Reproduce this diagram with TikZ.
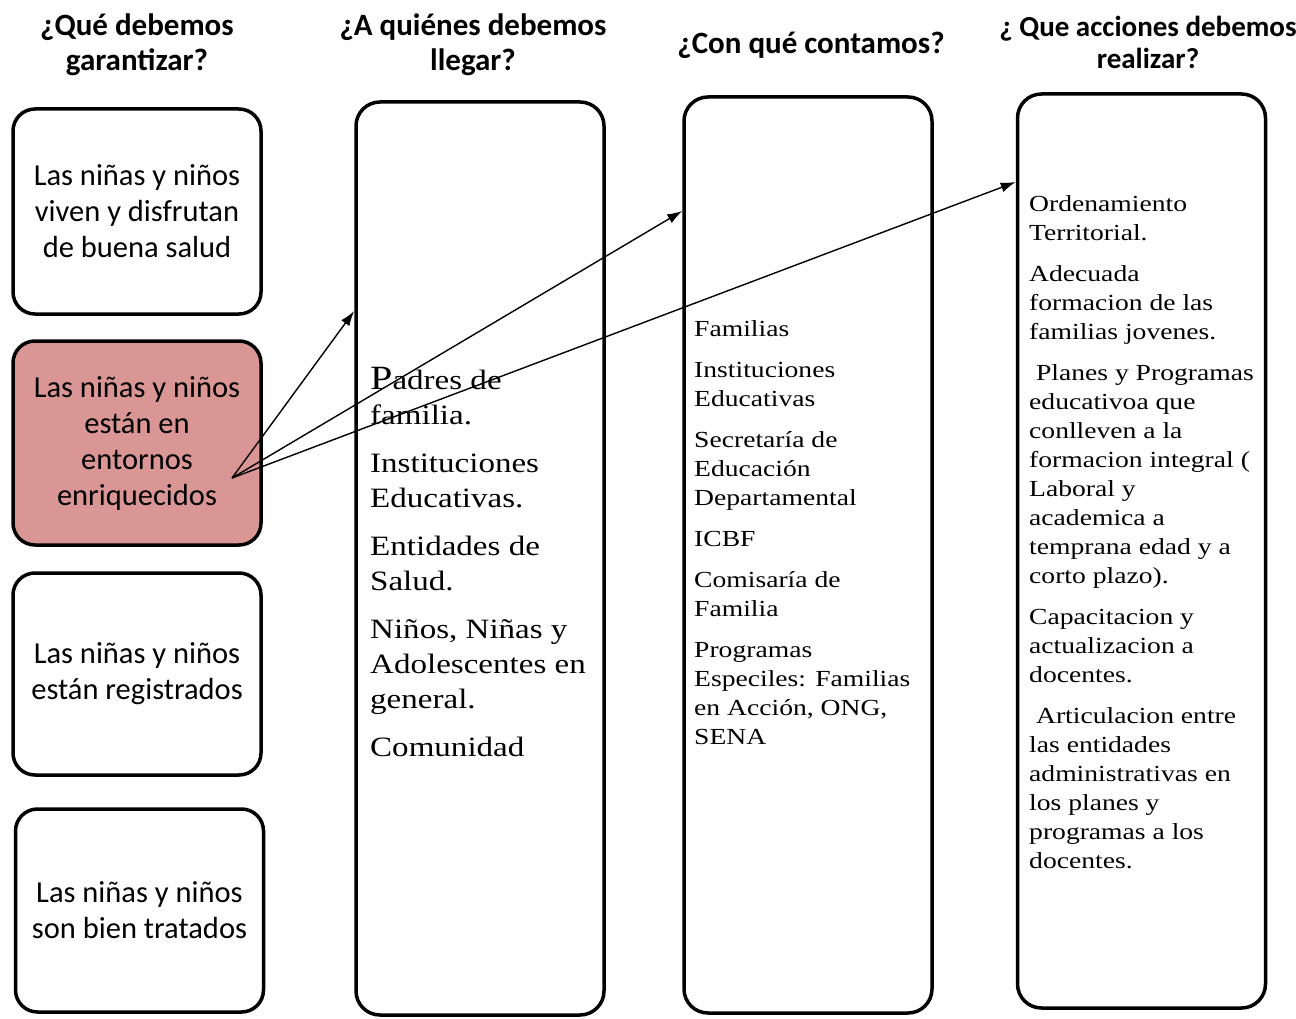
\documentclass[tikz,border=0pt]{standalone}
\usepackage{fontspec}
\setmainfont{Carlito}
\newfontfamily\plserif[FakeStretch=1.18]{Liberation Serif}
\newfontfamily\plserifsm[FakeStretch=1.2]{Liberation Serif}
\usetikzlibrary{arrows.meta}
\definecolor{plpink}{HTML}{D99694}

\begin{document}
\begin{tikzpicture}[x=1pt, y=-1pt,
  goal/.style={draw, line width=3.5pt, rounded corners=22pt, minimum width=248pt,
    inner sep=0pt, align=center, font=\fontsize{30.5}{36}\selectfont},
  colbox/.style={draw, line width=3.5pt, rounded corners=24pt, minimum width=248pt, inner sep=0pt},
  head/.style={anchor=base, align=center, font=\bfseries\fontsize{31}{35}\selectfont},
  coltext/.style={anchor=base west, align=left, inner sep=0pt},
  link/.style={line width=1.4pt, -{Latex[length=15pt, width=10pt]}}]
  \useasboundingbox (0,0) rectangle (1296,1019);
  % headings (anchored on the last line)
  \node[head] (hgoal)  at (137,71)  {¿Qué debemos\\garantizar?};
  \node[head] (hreach) at (473,71)  {¿A quiénes debemos\\llegar?};
  \node[head] (hhave)  at (811,54)  {¿Con qué contamos?};
  \node[head, font=\bfseries\fontsize{29}{32}\selectfont] (hact) at (1148,69)
    {¿ Que acciones debemos\\realizar?};
  % left boxes
  \node[goal, minimum height=205pt] (health) at (137,211.5)
    {Las niñas y niños\\viven y disfrutan\\de buena salud};
  \node[goal, fill=plpink, minimum height=204pt] (envir) at (137,443)
    {Las niñas y niños\\están en\\entornos\\enriquecidos};
  \node[goal, minimum height=202pt] (regis) at (137,674)
    {Las niñas y niños\\están registrados};
  \node[goal, minimum height=203pt] (treat) at (139.5,910.5)
    {Las niñas y niños\\son bien tratados};
  % columns
  \node[colbox, minimum height=913pt] (reach) at (480,558.5) {};
  \node[colbox, minimum height=916pt] (have)  at (808,555) {};
  \node[colbox, minimum height=914pt] (act)   at (1141.5,551) {};
  \node[coltext, font=\plserif\fontsize{28}{35}\selectfont] (reachtxt) at (370,756)
    {{\fontsize{34}{35}\selectfont P}adres de\\familia.\\[13pt]
     Instituciones\\Educativas.\\[13pt]
     Entidades de\\Salud.\\[13pt]
     Niños, Niñas y\\Adolescentes en\\general.\\[13pt]
     Comunidad};
  \node[coltext, font=\plserifsm\fontsize{23}{29}\selectfont] (havetxt) at (694,744)
    {Familias\\[12pt]
     Instituciones\\Educativas\\[12pt]
     Secretaría de\\Educación\\Departamental\\[12pt]
     ICBF\\[12pt]
     Comisaría de\\Familia\\[12pt]
     Programas\\Especiles: Familias\\en Acción, ONG,\\SENA};
  \node[coltext, font=\plserifsm\fontsize{23}{29}\selectfont] (acttxt) at (1029,868)
    {Ordenamiento\\Territorial.\\[12pt]
     Adecuada\\formacion de las\\familias jovenes.\\[12pt]
     \ Planes y Programas\\educativoa que\\conlleven a la\\formacion integral (\\Laboral y\\academica a\\temprana edad y a\\corto plazo).\\[12pt]
     Capacitacion y\\actualizacion a\\docentes.\\[12pt]
     \ Articulacion entre\\las entidades\\administrativas en\\los planes y\\programas a los\\docentes.};
  % arrows
  \coordinate (src) at (232,478);
  \coordinate (toreach) at (reach.west |- 0,311);
  \coordinate (tohave)  at (have.west |- 0,211);
  \coordinate (toact)   at (act.west |- 0,182);
  \draw[link] (src) -- (toreach);
  \draw[link] (src) -- (tohave);
  \draw[link] (src) -- (toact);
\end{tikzpicture}
\end{document}
